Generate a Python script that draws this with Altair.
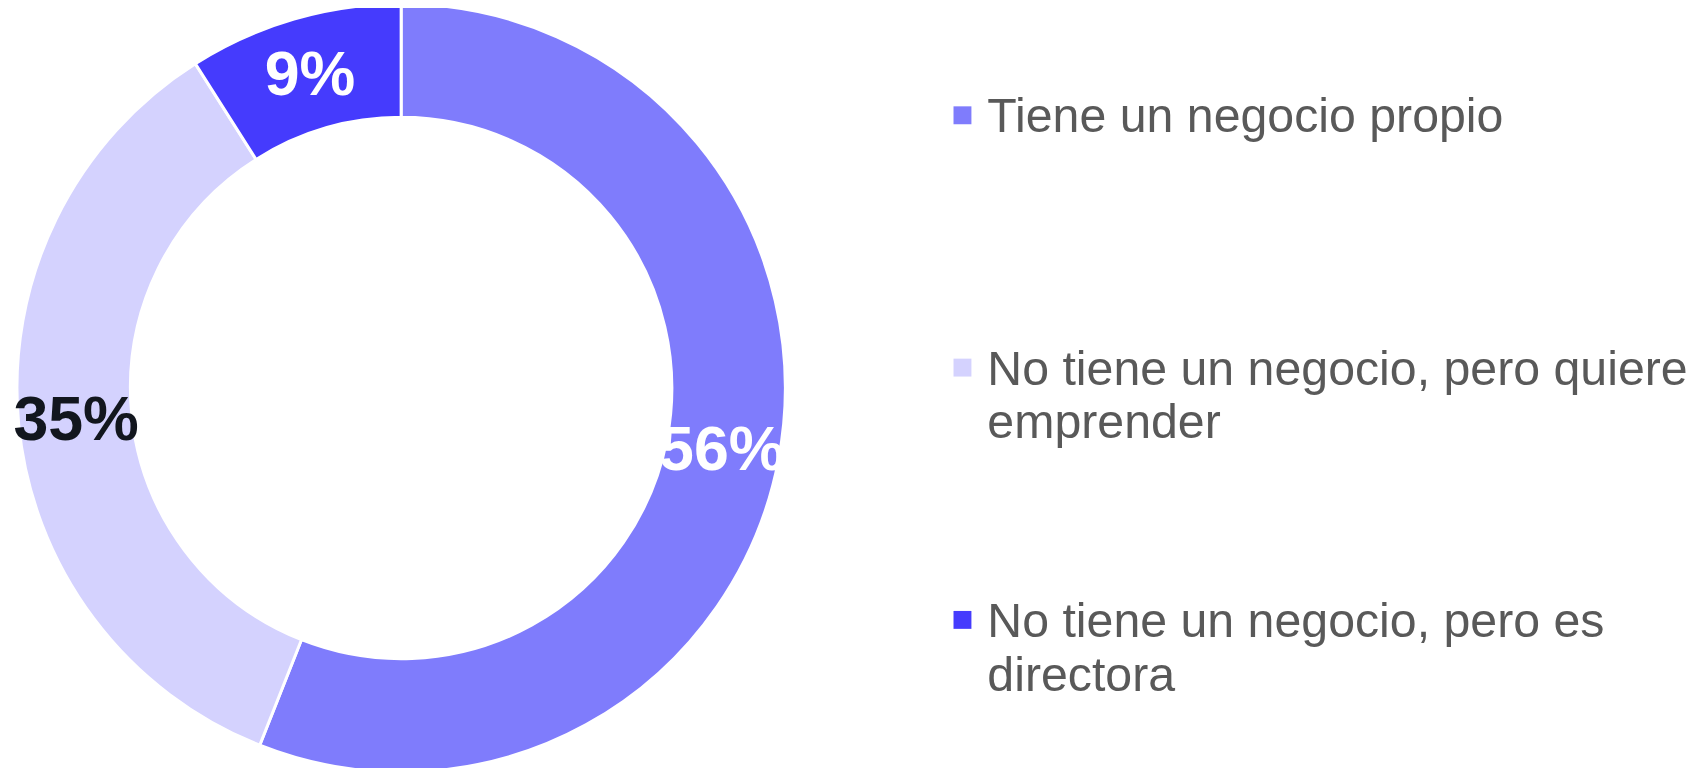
import altair as alt
import pandas as pd

categories = ["Tiene un negocio propio",
              "No tiene un negocio, pero quiere emprender",
              "No tiene un negocio, pero es directora"]
legend_labels = ["Tiene un negocio propio",
                 "No tiene un negocio, pero quiere\nemprender",
                 "No tiene un negocio, pero es\ndirectora"]
values = [56, 35, 9]
pct_labels = ["56%", "35%", "9%"]
colors = ["#7F7CFC", "#D4D2FE", "#453BFD"]
label_colors = ["#FFFFFF", "#12161E", "#FFFFFF"]

df = pd.DataFrame({
    "cat": categories,
    "legend": legend_labels,
    "value": values,
    "pct": pct_labels,
    "order": [0, 1, 2],
    "lblcolor": label_colors,
})

CX, CY = 395, 380
color_scale = alt.Scale(domain=categories, range=colors)

base = alt.Chart(df).encode(
    theta=alt.Theta("value:Q", stack=True),
    order=alt.Order("order:Q", sort="ascending"),
)

arcs = base.mark_arc(radius=386, radius2=272, stroke="white", strokeWidth=3).encode(
    color=alt.Color("cat:N", scale=color_scale, legend=None),
    x=alt.value(CX), y=alt.value(CY),
)

labels = base.mark_text(radius=328, font="Liberation Sans", fontWeight="bold",
                        fontSize=63, align="center", baseline="middle", dy=2).encode(
    text="pct:N",
    color=alt.Color("lblcolor:N", scale=None),
    x=alt.value(CX), y=alt.value(CY),
)

ypos = alt.Y("order:Q", scale=alt.Scale(domain=[0, 2], range=[106, 613]), axis=None)

squares = alt.Chart(df).mark_square(size=324, opacity=1).encode(
    x=alt.value(959),
    y=ypos,
    color=alt.Color("cat:N", scale=color_scale, legend=None),
)

legend_text = alt.Chart(df).mark_text(
    align="left", baseline="alphabetic", dy=17, font="Liberation Sans",
    fontSize=48.5, color="#595959", lineBreak="\n", lineHeight=54,
).encode(
    x=alt.value(984),
    y=ypos,
    text="legend:N",
)

chart = alt.layer(arcs, labels, squares, legend_text).properties(
    width=1690, height=760,
    autosize=alt.AutoSizeParams(type="none"),
    padding=0,
).configure_view(stroke=None)

chart.save("out.html", embed_options={"renderer": "svg", "actions": False})
